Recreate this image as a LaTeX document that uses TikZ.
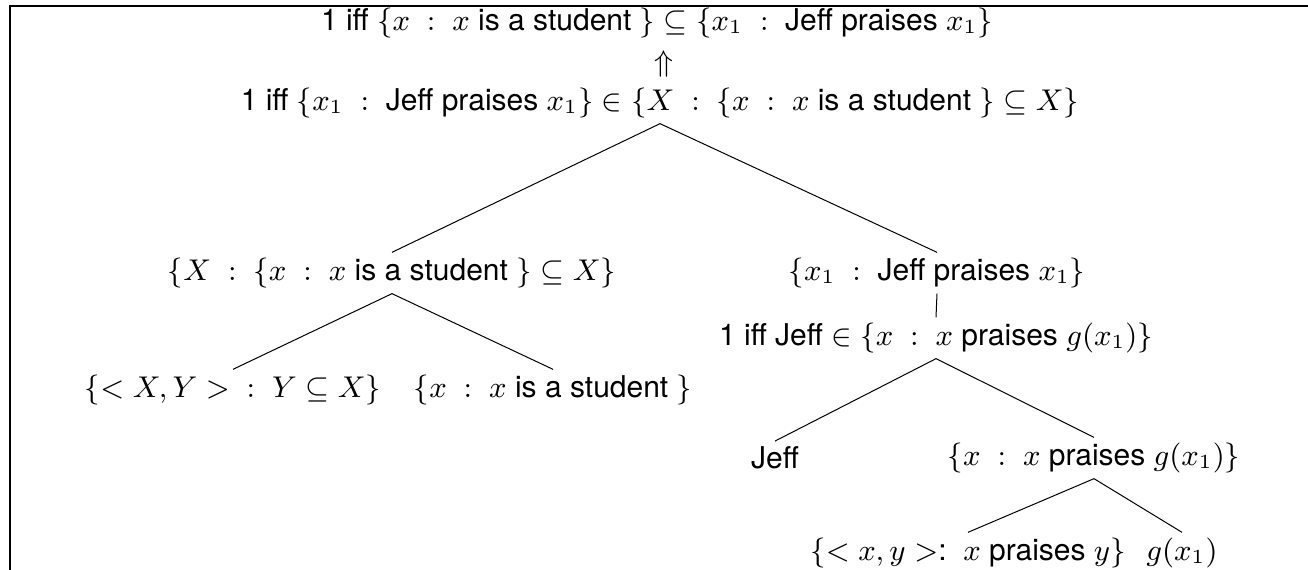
\documentclass[tikz,border=0pt]{standalone}
\usepackage[no-math]{fontspec}
\setmainfont{TeX Gyre Heros}
\begin{document}
\begin{tikzpicture}[x=0.3pt,y=-0.3pt,
  lbl/.style={inner sep=1.5pt, font=\fontsize{9}{11}\selectfont},
  edge/.style={line width=0.3pt},
  frame/.style={line width=0.6pt}]
\useasboundingbox (0,0) rectangle (1308,570);
\draw[frame] (10,580) -- (10,6) -- (1320,6);
\node[lbl] (T1) at (657,23) {1 iff $\{x\ :\ x$ is a student $\} \subseteq \{x_1\ :\ $\ Jeff praises $x_1\}$};
\node[lbl] (up) at (664,64) {$\Uparrow$};
\node[lbl] (T2) at (660,103) {1 iff $\{x_1\ :\ $\ Jeff praises $x_1\} \in \{X\ :\ \{x\ :\ x$ is a student $\} \subseteq X\}$};
\node[lbl] (L) at (392,273) {$\{X\ :\ \{x\ :\ x$ is a student $\} \subseteq X\}$};
\node[lbl] (R) at (937,273) {$\{x_1\ :\ $\ Jeff praises $x_1\}$};
\node[lbl] (RR) at (936,338) {1 iff Jeff $\in \{x\ :\ x$ praises $g(x_1)\}$};
\node[lbl] (LL) at (233,390) {$\{< X,Y >\ \ :\ Y \subseteq X\}$};
\node[lbl] (LR) at (553,390) {$\{x\ :\ x$ is a student $\}$};
\node[lbl] (J) at (775,458) {Jeff};
\node[lbl] (RRR) at (1094,458) {$\{x\ :\ x$ praises $g(x_1)\}$};
\node[lbl] (B1) at (968,553) {$\{<x,y>$:\ \ $x$ praises $y\}$};
\node[lbl] (B2) at (1182,553) {$g(x_1)$};
\draw[edge] (T2.south) -- (L.north);
\draw[edge] (T2.south) -- (R.north);
\draw[edge] (L.south) -- (LL.north);
\draw[edge] (L.south) -- (LR.north);
\draw[edge] (R.south) -- (RR.north);
\draw[edge] (RR.south) -- (J.north);
\draw[edge] (RR.south) -- (RRR.north);
\draw[edge] (RRR.south) -- (B1.north);
\draw[edge] (RRR.south) -- (B2.north);
\end{tikzpicture}
\end{document}
